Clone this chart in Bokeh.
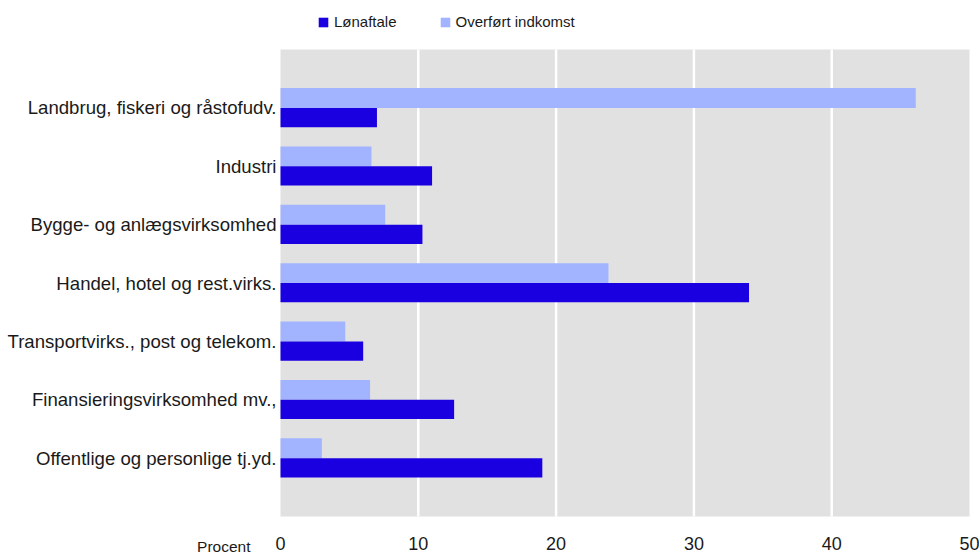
from bokeh.plotting import figure
from bokeh.models import (Range1d, FixedTicker, Label, Legend, LegendItem,
                          LinearAxis, BoxAnnotation)
from bokeh.embed import file_html
from bokeh.resources import INLINE

categories = [
    "Landbrug, fiskeri og råstofudv.",
    "Industri",
    "Bygge- og anlægsvirksomhed",
    "Handel, hotel og rest.virks.",
    "Transportvirks., post og telekom.",
    "Finansieringsvirksomhed mv.,",
    "Offentlige og personlige tj.yd.",
]
loenaftale = [7.0, 11.0, 10.3, 34.0, 6.0, 12.6, 19.0]
overfoert = [46.1, 6.6, 7.6, 23.8, 4.7, 6.5, 3.0]
x_ticks = [0, 10, 20, 30, 40, 50]
series_names = ["Lønaftale", "Overført indkomst"]
unit_label = "Procent"

LOEN_COLOR = "#1a00e0"
OVER_COLOR = "#a2b4ff"
BG = "#e1e1e1"
TXT = "#1a1a1a"
SANS = "Liberation Sans"

n = len(categories)
ys = [n - i for i in range(n)]
x_max = x_ticks[-1]

W, H = 979, 554
# frame covers the whole canvas; the grey plotting area is 280..969 x 49..516 px
px_x = (969 - 280) / x_max
px_y = (516 - 49) / (n + 1)
x_range = Range1d(-280 / px_x, x_max + (W - 969) / px_x)
y_range = Range1d(-(H - 516) / px_y, (n + 1) + 49 / px_y)

p = figure(
    width=W, height=H, x_range=x_range, y_range=y_range,
    x_axis_location=None, y_axis_location=None,
    output_backend="svg", toolbar_location=None,
    min_border=0, min_border_left=0, min_border_right=0, min_border_top=0, min_border_bottom=0,
)
p.background_fill_color = "white"
p.border_fill_color = "white"
p.outline_line_color = None
p.grid.visible = False

p.add_layout(BoxAnnotation(left=0, right=x_max, bottom=0, top=n + 1, fill_color=BG,
                           fill_alpha=1, line_color=None, level="underlay"))

# vertical white grid lines
grid_x = x_ticks[1:-1]
p.segment(x0=grid_x, x1=grid_x, y0=[0] * len(grid_x), y1=[n + 1] * len(grid_x),
          line_color="white", line_width=2.5)

r_over = p.hbar(y=[y + 0.17 for y in ys], right=overfoert, left=0, height=0.34,
                fill_color=OVER_COLOR, line_color=None)
r_loen = p.hbar(y=[y - 0.165 for y in ys], right=loenaftale, left=0, height=0.33,
                fill_color=LOEN_COLOR, line_color=None)

xaxis = LinearAxis(fixed_location=0, ticker=FixedTicker(ticks=x_ticks))
xaxis.axis_line_color = None
xaxis.major_tick_line_color = None
xaxis.minor_tick_line_color = None
xaxis.major_tick_out = 0
xaxis.major_tick_in = 0
xaxis.major_label_text_font = SANS
xaxis.major_label_text_font_size = "18px"
xaxis.major_label_text_color = TXT
xaxis.major_label_standoff = 20
p.add_layout(xaxis, "below")

yaxis = LinearAxis(fixed_location=0, ticker=FixedTicker(ticks=ys))
yaxis.major_label_overrides = {y: c for y, c in zip(ys, categories)}
yaxis.axis_line_color = None
yaxis.major_tick_line_color = None
yaxis.minor_tick_line_color = None
yaxis.major_tick_out = 0
yaxis.major_tick_in = 0
yaxis.major_label_text_font = SANS
yaxis.major_label_text_font_size = "18.6px"
yaxis.major_label_text_color = TXT
yaxis.major_label_standoff = 4
p.add_layout(yaxis, "left")

p.add_layout(Label(x=-30 / px_x, y=-30 / px_y, text=unit_label, text_align="right",
                   text_baseline="middle", text_font=SANS, text_font_size="15.5px",
                   text_color=TXT))

legend = Legend(
    items=[LegendItem(label=series_names[0], renderers=[r_loen]),
           LegendItem(label=series_names[1], renderers=[r_over])],
    orientation="horizontal", location=(317, 524),
    glyph_width=12, glyph_height=12, label_standoff=5, spacing=42, padding=0, margin=0,
    label_text_font=SANS, label_text_font_size="15px", label_text_color=TXT,
    background_fill_alpha=0, border_line_alpha=0,
)
p.add_layout(legend, "center")

open("out.html", "w").write(file_html(p, INLINE))
